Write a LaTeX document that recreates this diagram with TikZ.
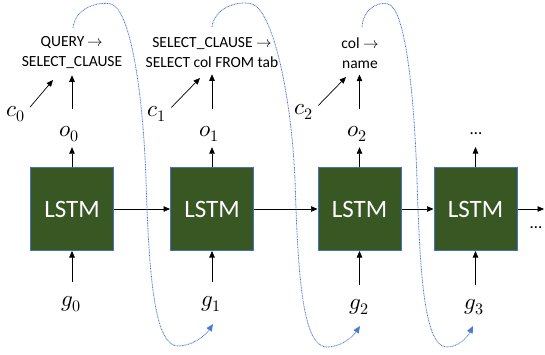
\documentclass[tikz,border=0pt]{standalone}
\usepackage{fontspec}
\usepackage{unicode-math}
\setmainfont{Carlito}
\setmathfont{Latin Modern Math}
\usetikzlibrary{arrows.meta}
\definecolor{lstmgreen}{HTML}{385723}
\definecolor{boxblue}{HTML}{4472C4}
\definecolor{loopblue}{HTML}{4A7BD0}
\tikzset{
  lstmbox/.style={draw=boxblue, fill=lstmgreen, line width=1pt, minimum width=83pt, minimum height=83pt, inner sep=0pt, text=white, font=\fontsize{25}{30}\selectfont},
  mlbl/.style={inner sep=0pt, anchor=base, text height=10pt, text depth=3pt, font=\fontsize{23}{27}\selectfont},
  rule/.style={inner sep=0pt, align=center, font=\fontsize{15.5}{20}\selectfont},
  dotlbl/.style={inner sep=0pt, font=\fontsize{17}{20}\selectfont},
  arr/.style={-{Triangle[length=6.5pt,width=5.5pt]}, line width=0.7pt, black},
  loopline/.style={draw=loopblue, line width=0.8pt, dash pattern=on 0.9pt off 0.7pt, -{Triangle[length=7pt,width=6pt]}}
}
\begin{document}
\begin{tikzpicture}[x=1pt,y=-1pt]
\useasboundingbox (0,0) rectangle (545,354);
% LSTM boxes
\node[lstmbox] (b0) at (72,209) {LSTM};
\node[lstmbox] (b1) at (212,209) {LSTM};
\node[lstmbox] (b2) at (359.5,209) {LSTM};
\node[lstmbox] (b3) at (475.5,209) {LSTM};
% outputs
\node[mlbl] (o0) at (69,136) {$o_0$};
\node[mlbl] (o1) at (209,136) {$o_1$};
\node[mlbl] (o2) at (357,136) {$o_2$};
\node[dotlbl] (od) at (476,134) {…};
% inputs
\node[mlbl] (g0) at (71,306) {$g_0$};
\node[mlbl] (g1) at (211,306) {$g_1$};
\node[mlbl] (g2) at (359,309) {$g_2$};
\node[mlbl] (g3) at (474,309) {$g_3$};
% contexts
\node[mlbl] (c0) at (16,116) {$c_0$};
\node[mlbl] (c1) at (157,116) {$c_1$};
\node[mlbl] (c2) at (304,114) {$c_2$};
% rule texts
\node[rule] (t0) at (72,53) {QUERY $\rightarrow$\\SELECT\_CLAUSE};
\node[rule] (t1) at (212,53) {SELECT\_CLAUSE $\rightarrow$\\SELECT col FROM tab};
\node[rule] (t2) at (360,53) {col $\rightarrow$\\name};
% trailing
\coordinate (rend) at (544,209);
\node[dotlbl] (dots) at (536,228) {…};
% horizontal arrows
\draw[arr] (b0.east) -- (b1.west);
\draw[arr] (b1.east) -- (b2.west);
\draw[arr] (b2.east) -- (b3.west);
\draw[arr] (b3.east) -- (rend);
% box -> output
\draw[arr, shorten >=8pt] (b0.north) -- (b0.north |- o0.south);
\draw[arr, shorten >=8pt] (b1.north) -- (b1.north |- o1.south);
\draw[arr, shorten >=8pt] (b2.north) -- (b2.north |- o2.south);
\draw[arr] (b3.north) -- ++(0,-20) coordinate (odarr);
% output -> rule
\draw[arr, shorten <=17pt, shorten >=6pt] (b0.north |- o0.north) -- (b0.north |- t0.south);
\draw[arr, shorten <=17pt, shorten >=6pt] (b1.north |- o1.north) -- (b1.north |- t1.south);
\draw[arr, shorten <=17pt, shorten >=6pt] (b2.north |- o2.north) -- (b2.north |- t2.south);
% input -> box
\draw[arr, shorten <=14pt] (b0.south |- g0.north) -- (b0.south);
\draw[arr, shorten <=14pt] (b1.south |- g1.north) -- (b1.south);
\draw[arr, shorten <=14pt] (b2.south |- g2.north) -- (b2.south);
\draw[arr, shorten <=14pt] (b3.south |- g3.north) -- (b3.south);
% context arrows
\coordinate (ct0) at (53,80);
\coordinate (ct1) at (200,78);
\coordinate (ct2) at (346,77);
\draw[arr, shorten <=7pt] (c0.east) -- (ct0);
\draw[arr, shorten <=7pt] (c1.east) -- (ct1);
\draw[arr, shorten <=7pt] (c2.east) -- (ct2);
% feedback loops
\coordinate (ls0) at (73,28);
\coordinate (le1) at (213,324);
\coordinate (ls1) at (212,27);
\coordinate (le2) at (360,326);
\coordinate (ls2) at (362,27);
\coordinate (le3) at (473,326);
\draw[loopline] (ls0) .. controls (75,8) and (98,1) .. (111,4)
  .. controls (130,9) and (143,90) .. (146,180)
  .. controls (149,280) and (155,346) .. (178,346)
  .. controls (192,346) and (205,336) .. (le1);
\draw[loopline] (ls1) .. controls (214,8) and (238,0) .. (252,4)
  .. controls (272,10) and (291,90) .. (295,180)
  .. controls (298,280) and (303,347) .. (327,347)
  .. controls (340,347) and (352,338) .. (le2);
\draw[loopline] (ls2) .. controls (363,10) and (377,1) .. (388,4)
  .. controls (405,8) and (414,90) .. (417,180)
  .. controls (420,280) and (425,347) .. (447,347)
  .. controls (458,347) and (467,338) .. (le3);
\end{tikzpicture}
\end{document}
